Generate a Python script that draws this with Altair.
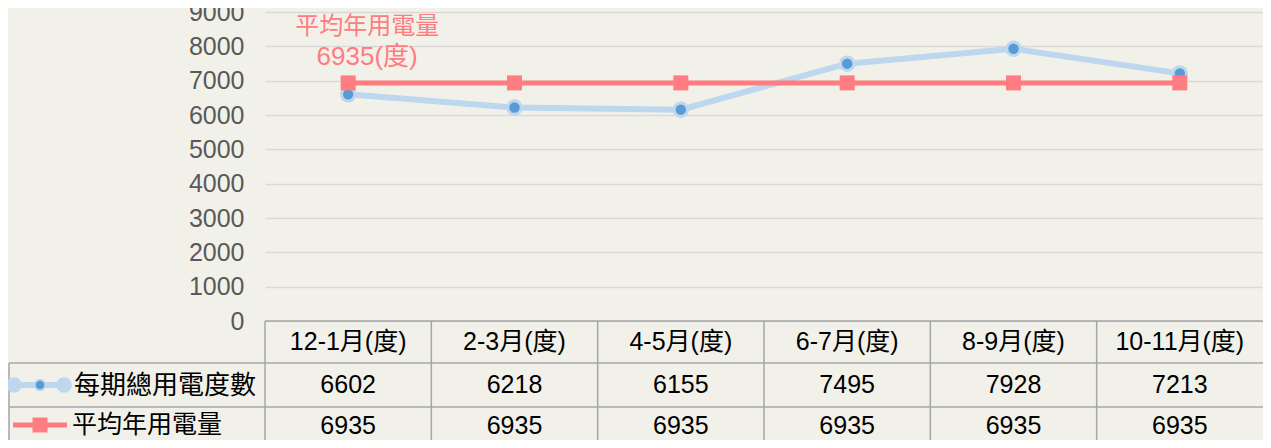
import altair as alt
import pandas as pd

# ---- data ----
periods = ["12-1月(度)", "2-3月(度)", "4-5月(度)", "6-7月(度)", "8-9月(度)", "10-11月(度)"]
usage = [6602, 6218, 6155, 7495, 7928, 7213]
average = [6935, 6935, 6935, 6935, 6935, 6935]
series_names = ["每期總用電度數", "平均年用電量"]
y_ticks = [0, 1000, 2000, 3000, 4000, 5000, 6000, 7000, 8000, 9000]

df = pd.DataFrame({"period": periods, "usage": usage, "average": average})
df["avg_label"] = [f"{a}(度)" for a in average]
one = pd.DataFrame({"k": [0]})

# ---- style ----
BG = "#F2F1E9"
BLUE_LIGHT = "#BDD7EE"
BLUE_DARK = "#5B9BD5"
RED = "#FF7C80"
BORDER = "#A6A6A6"
LAT = "Liberation Sans, Noto Sans CJK TC"
CJK = "Noto Sans CJK TC"

W = 998
H = 309

xscale = alt.Scale(type="band", domain=periods, paddingInner=0, paddingOuter=0)
x_c = alt.X("period:N", sort=periods, scale=xscale, axis=None, bandPosition=0.5)
x_e = alt.X("period:N", sort=periods, scale=xscale, axis=None, bandPosition=0)

yaxis = alt.Axis(values=y_ticks, format="d", grid=True, gridColor="#D9D9D9",
                 gridWidth=1.5, domain=False, ticks=False,
                 labelFont="Liberation Sans", labelFontSize=25,
                 labelColor="#595959", labelPadding=21, title=None)
yscale = alt.Scale(domain=[0, 9000], nice=False, zero=True)

base = alt.Chart(df)

blue_line = base.mark_line(color=BLUE_LIGHT, strokeWidth=6).encode(
    x=x_c, y=alt.Y("usage:Q", scale=yscale, axis=yaxis))
blue_pts = base.mark_circle(fill=BLUE_DARK, stroke=BLUE_LIGHT, strokeWidth=3,
                            size=180, opacity=1).encode(
    x=x_c, y=alt.Y("usage:Q", scale=yscale, axis=yaxis))
red_line = base.mark_line(color=RED, strokeWidth=5).encode(
    x=x_c, y=alt.Y("average:Q", scale=yscale, axis=yaxis))
red_pts = base.mark_square(color=RED, size=225, opacity=1).encode(
    x=x_c, y=alt.Y("average:Q", scale=yscale, axis=yaxis))

first = alt.Chart(df.iloc[[0]])
ann1 = first.mark_text(font=CJK, fontSize=24, color=RED, dx=19, dy=-56,
                       baseline="middle").encode(
    x=x_c, y=alt.Y("average:Q", scale=yscale, axis=yaxis),
    text=alt.value(series_names[1]))
ann2 = first.mark_text(font=LAT, fontSize=26, color=RED, dx=19, dy=-26,
                       baseline="middle").encode(
    x=x_c, y=alt.Y("average:Q", scale=yscale, axis=yaxis),
    text="avg_label:N")

# ---- data table ----
header = base.mark_text(font=LAT, fontSize=25, color="#000000",
                        baseline="middle").encode(
    x=x_c, y=alt.value(330), text="period:N")
row1 = base.mark_text(font="Liberation Sans", fontSize=25, color="#000000",
                      baseline="middle").encode(
    x=x_c, y=alt.value(373), text="usage:Q")
row2 = base.mark_text(font="Liberation Sans", fontSize=25, color="#000000",
                      baseline="middle").encode(
    x=x_c, y=alt.value(414), text="average:Q")

vlines = base.mark_rule(color=BORDER, strokeWidth=1.5).encode(
    x=x_e, y=alt.value(309), y2=alt.value(440))
oc = alt.Chart(one)
vline_left = oc.mark_rule(color=BORDER, strokeWidth=1.5).encode(
    x=alt.value(-256), y=alt.value(351), y2=alt.value(440))
h0 = oc.mark_rule(color=BORDER, strokeWidth=1.5).encode(
    x=alt.value(0), x2=alt.value(W), y=alt.value(309))
h1 = oc.mark_rule(color=BORDER, strokeWidth=1.5).encode(
    x=alt.value(-256), x2=alt.value(W), y=alt.value(351))
h2 = oc.mark_rule(color=BORDER, strokeWidth=1.5).encode(
    x=alt.value(-256), x2=alt.value(W), y=alt.value(395))

# legend keys inside the table
lg_blue_line = oc.mark_rule(color=BLUE_LIGHT, strokeWidth=6).encode(
    x=alt.value(-251), x2=alt.value(-201), y=alt.value(373))
lg_blue_ends = alt.Chart(pd.DataFrame({"p": [-251, -201]})).mark_circle(
    color=BLUE_LIGHT, size=240, opacity=1).encode(
    x=alt.X("p:Q", scale=None), y=alt.value(373))
lg_blue_dot = oc.mark_circle(fill=BLUE_DARK, stroke=BLUE_LIGHT, strokeWidth=2,
                             size=110, opacity=1).encode(
    x=alt.value(-225), y=alt.value(373))
lg_red_line = oc.mark_rule(color=RED, strokeWidth=5).encode(
    x=alt.value(-252), x2=alt.value(-198), y=alt.value(413))
lg_red_sq = oc.mark_square(color=RED, size=225, opacity=1).encode(
    x=alt.value(-225), y=alt.value(413))
lg_text1 = oc.mark_text(font=CJK, fontSize=26, color="#000000", align="left",
                        baseline="middle").encode(
    x=alt.value(-191), y=alt.value(374), text=alt.value(series_names[0]))
lg_text2 = oc.mark_text(font=CJK, fontSize=25, color="#000000", align="left",
                        baseline="middle").encode(
    x=alt.value(-193), y=alt.value(413), text=alt.value(series_names[1]))

chart = alt.layer(
    blue_line, blue_pts, red_line, red_pts, ann1, ann2,
    header, row1, row2,
    vlines, vline_left, h0, h1, h2,
    lg_blue_line, lg_blue_ends, lg_blue_dot, lg_red_line, lg_red_sq,
    lg_text1, lg_text2,
).properties(
    width=W, height=H,
    autosize=alt.AutoSizeParams(type="none"),
    padding={"left": 257, "top": 4, "right": 0, "bottom": 119},
    background=BG,
).configure_view(strokeOpacity=0)

chart.save("out.html", embed_options={"renderer": "svg", "actions": False})
